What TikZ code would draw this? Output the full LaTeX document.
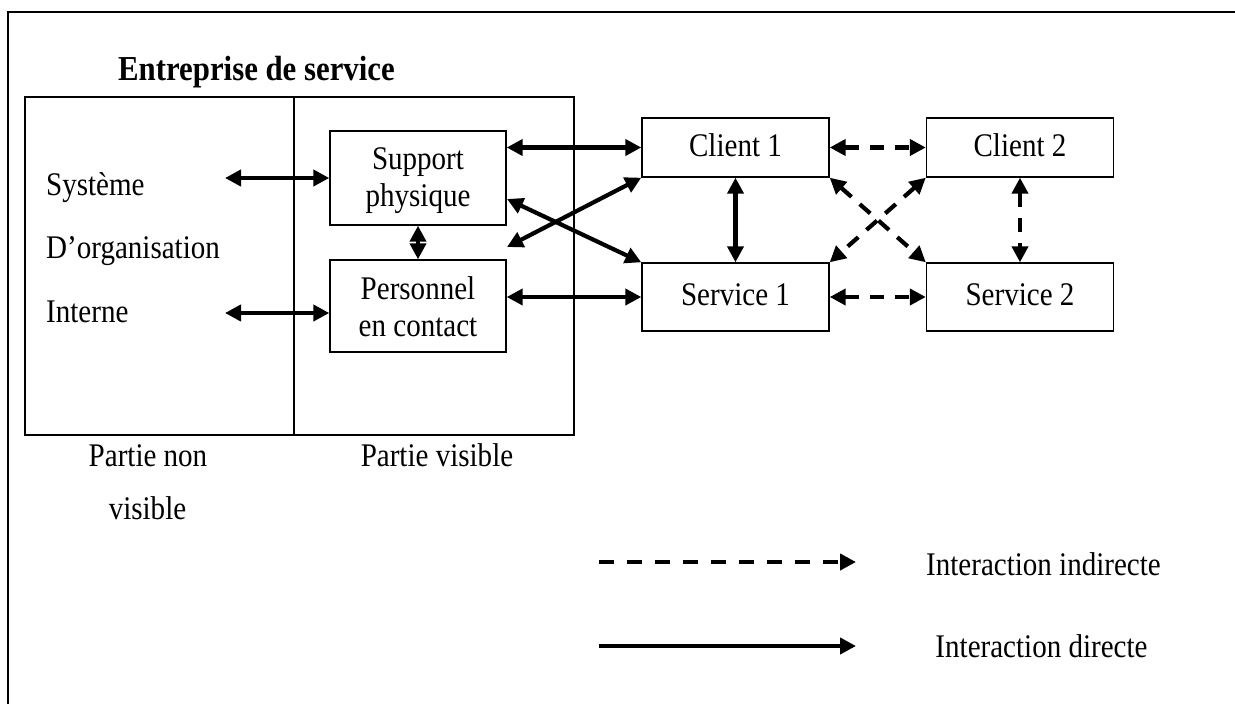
\documentclass[tikz,border=0pt]{standalone}
\usepackage{fontspec}
\setmainfont[FakeStretch=0.88]{Liberation Serif}
\usetikzlibrary{arrows.meta}
\begin{document}
\begin{tikzpicture}[x=1pt,y=-1pt,
  every node/.style={font=\fontsize{33}{37}\selectfont},
  box/.style={draw, line width=1.4pt, inner sep=0pt, align=center},
  onebox/.style={box, minimum width=187pt, text height=22pt, text depth=5pt},
  twobox/.style={box, minimum width=176pt, text depth=8pt},
  tip/.tip={Triangle[length=16pt,width=16pt]},
  arr/.style={tip-tip, line width=4.2pt},
  darr/.style={tip-tip, line width=4.2pt, dash pattern=on 14pt off 11pt},
  txt/.style={anchor=base, inner sep=0pt}]
\useasboundingbox (0,0) rectangle (1235,704);
% outer frame (left and top edges visible)
\draw[line width=2pt] (8,704) -- (8,12) -- (1235,12);
% title
\node[txt, anchor=base west, font=\fontsize{35}{40}\selectfont\bfseries] (title) at (118,80) {Entreprise de service};
% enterprise box
\node[draw, line width=1.4pt, minimum width=549pt, minimum height=338pt, inner sep=0pt] (ent) at (299.5,266) {};
\coordinate (divx) at (294,0);
\draw[line width=1.4pt] (ent.north -| divx) -- (ent.south -| divx);
% left texts
\node[txt, anchor=base west] (sys) at (46,195) {Système};
\node[txt, anchor=base west] (org) at (46,258) {D’organisation};
\node[txt, anchor=base west] (int) at (46,322) {Interne};
% inner boxes
\node[twobox, minimum height=94pt, text height=64pt] (sup) at (418,178) {Support\\physique};
\node[twobox, minimum height=92pt, text height=68pt] (pers) at (418,306) {Personnel\\en contact};
% client / service boxes
\node[onebox, minimum height=59pt] (c1) at (735.5,147.5) {Client 1};
\node[onebox, minimum height=68pt] (s1) at (735.5,297) {Service 1};
\node[onebox, minimum height=59pt] (c2) at (1020,147.5) {Client 2};
\node[onebox, minimum height=68pt] (s2) at (1020,297) {Service 2};
% bottom labels
\node[txt] (pnv1) at (148,466) {Partie non};
\node[txt] (pnv2) at (147.5,519) {visible};
\node[txt] (pv) at (437,466) {Partie visible};
% free arrow ends
\coordinate (sysend) at (225,178);
\coordinate (intend) at (225,313);
\coordinate (crossA) at (507,199);
\coordinate (crossB) at (507,247);
% solid arrows
\draw[arr] (sysend) -- (sup.west);
\draw[arr] (intend) -- (intend -| pers.west);
\draw[arr] (sup.south) -- (pers.north);
\draw[arr] (sup.east |- c1.west) -- (c1.west);
\draw[arr] (crossA) -- (s1.north west);
\draw[arr] (crossB) -- (c1.south west);
\draw[arr] (pers.east |- s1.west) -- (s1.west);
\draw[arr] (c1.south) -- (s1.north);
% dashed arrows
\draw[darr] (c1.east) -- (c2.west);
\draw[darr] (s1.east) -- (s2.west);
\draw[darr] (c1.south east) -- (s2.north west);
\draw[darr] (c2.south west) -- (s1.north east);
\draw[darr] (c2.south) -- (s2.north);
% legend
\coordinate (l1a) at (599,562);
\coordinate (l1b) at (856,562);
\coordinate (l2a) at (599,646);
\coordinate (l2b) at (856,646);
\draw[-tip, line width=4.2pt, dash pattern=on 15pt off 13pt] (l1a) -- (l1b);
\draw[-tip, line width=4.2pt] (l2a) -- (l2b);
\node[txt] (ind) at (1043.5,575) {Interaction indirecte};
\node[txt] (dir) at (1041.5,657) {Interaction directe};
\end{tikzpicture}
\end{document}
